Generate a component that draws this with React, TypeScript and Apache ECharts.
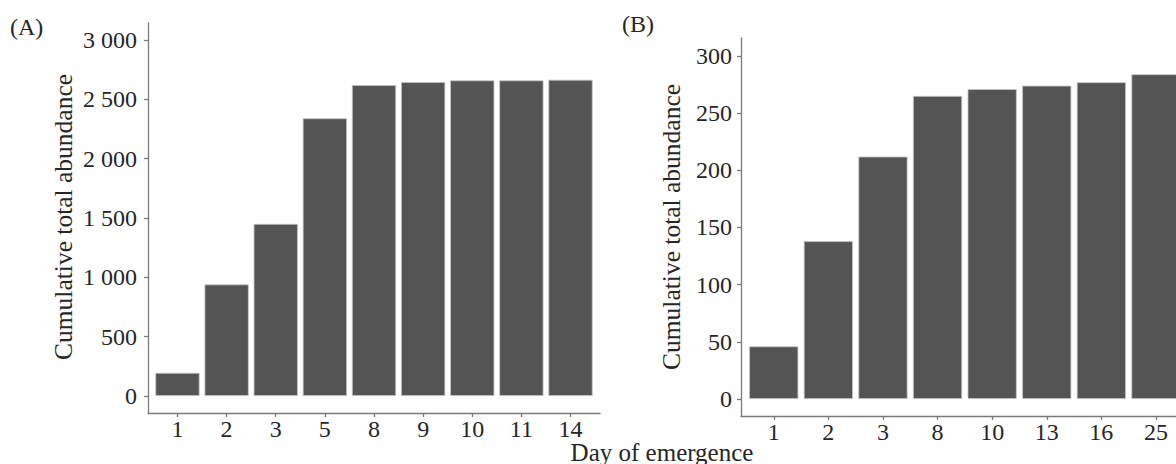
import React, { useEffect, useRef } from "react";
import * as echarts from "echarts";

// Panel A data
const daysA = ["1", "2", "3", "5", "8", "9", "10", "11", "14"];
const abundanceA = [195, 940, 1450, 2340, 2620, 2645, 2660, 2660, 2665];
const yTicksA = [0, 500, 1000, 1500, 2000, 2500, 3000];

// Panel B data
const daysB = ["1", "2", "3", "8", "10", "13", "16", "25"];
const abundanceB = [46, 138, 212, 265, 271, 274, 277, 284];
const yTicksB = [0, 50, 100, 150, 200, 250, 300];

const FONT = "'Liberation Serif', 'Times New Roman', serif";
const AXIS_COLOR = "#7a7a7a";
const TEXT_COLOR = "#262626";
const BAR_COLOR = "#545454";

const fmtThousands = (v: number) => {
  if (v >= 1000) {
    const th = Math.floor(v / 1000);
    const rest = String(v % 1000).padStart(3, "0");
    return th + " " + rest;
  }
  return String(v);
};

export default function App() {
  const ref = useRef<HTMLDivElement>(null);

  useEffect(() => {
    if (!ref.current) return;
    const chart = echarts.init(ref.current, null, { renderer: "svg" });

    const W = 1176;
    const gridA = { left: 148, top: 23, width: 452, height: 390 };
    const leftB = 741;
    const unitB = 54.6; // px per category in panel B (panel is cut at the right edge)
    const gridB = { left: leftB, top: 38, width: W - leftB, height: 378 };
    const xMin = 0.4;
    const xMaxA = daysA.length + 0.6;
    const xMaxB = xMin + gridB.width / unitB;
    const bwA = (0.9 * gridA.width) / (xMaxA - xMin);
    const bwB = 0.9 * unitB;

    const ticksIdxA = daysA.map((_, i) => i + 1);
    const ticksIdxB = daysB.map((_, i) => i + 1);

    const baseX = (gridIndex: number, max: number, cats: string[], idx: number[]) => ({
      type: "value",
      gridIndex,
      min: xMin,
      max,
      splitLine: { show: false },
      axisLine: { show: true, onZero: false, lineStyle: { color: AXIS_COLOR, width: 1.3 } },
      axisTick: { show: true, length: 4, customValues: idx, lineStyle: { color: AXIS_COLOR, width: 1.3 } },
      axisLabel: {
        customValues: idx,
        margin: 4,
        color: TEXT_COLOR,
        fontFamily: FONT,
        fontSize: 24,
        formatter: (v: number) => cats[Math.round(v) - 1] ?? "",
      },
    });

    const baseY = (gridIndex: number, min: number, max: number, ticks: number[], margin: number) => ({
      type: "value",
      gridIndex,
      min,
      max,
      splitLine: { show: false },
      axisLine: { show: true, onZero: false, lineStyle: { color: AXIS_COLOR, width: 1.3 } },
      axisTick: { show: true, length: 4, customValues: ticks, lineStyle: { color: AXIS_COLOR, width: 1.3 } },
      axisLabel: {
        customValues: ticks,
        margin,
        color: TEXT_COLOR,
        fontFamily: FONT,
        fontSize: 24,
        formatter: (v: number) => fmtThousands(v),
      },
    });

    chart.setOption({
      animation: false,
      backgroundColor: "#ffffff",
      grid: [gridA, gridB],
      xAxis: [baseX(0, xMaxA, daysA, ticksIdxA), baseX(1, xMaxB, daysB, ticksIdxB)],
      yAxis: [
        baseY(0, -143.3, 3143.3, yTicksA, 11),
        baseY(1, -14.87, 315.7, yTicksB, 9),
      ],
      series: [
        {
          type: "bar",
          xAxisIndex: 0,
          yAxisIndex: 0,
          barWidth: bwA,
          clip: false,
          data: abundanceA.map((v, i) => [i + 1, v]),
          itemStyle: { color: BAR_COLOR, borderColor: "#c4c4c4", borderWidth: 0.8 },
        },
        {
          type: "bar",
          xAxisIndex: 1,
          yAxisIndex: 1,
          barWidth: bwB,
          clip: false,
          data: abundanceB.map((v, i) => [i + 1, v]),
          itemStyle: { color: BAR_COLOR, borderColor: "#c4c4c4", borderWidth: 0.8 },
        },
      ],
      graphic: [
        {
          type: "text",
          x: 10,
          y: 27,
          style: { text: "(A)", font: `24px ${FONT}`, fill: TEXT_COLOR, align: "left", verticalAlign: "middle" },
        },
        {
          type: "text",
          x: 622,
          y: 24,
          style: { text: "(B)", font: `24px ${FONT}`, fill: TEXT_COLOR, align: "left", verticalAlign: "middle" },
        },
        {
          type: "text",
          x: 63,
          y: 217,
          rotation: Math.PI / 2,
          style: {
            text: "Cumulative total abundance",
            font: `25.5px ${FONT}`,
            fill: TEXT_COLOR,
            align: "center",
            verticalAlign: "middle",
          },
        },
        {
          type: "text",
          x: 671,
          y: 227,
          rotation: Math.PI / 2,
          style: {
            text: "Cumulative total abundance",
            font: `25.5px ${FONT}`,
            fill: TEXT_COLOR,
            align: "center",
            verticalAlign: "middle",
          },
        },
        {
          type: "text",
          x: 662,
          y: 452,
          style: {
            text: "Day of emergence",
            font: `25px ${FONT}`,
            fill: TEXT_COLOR,
            align: "center",
            verticalAlign: "middle",
          },
        },
      ],
    });

    return () => chart.dispose();
  }, []);

  return (
    <div
      ref={ref}
      style={{ position: "fixed", left: 0, top: 0, width: 1176, height: 464, background: "#fff" }}
    />
  );
}
